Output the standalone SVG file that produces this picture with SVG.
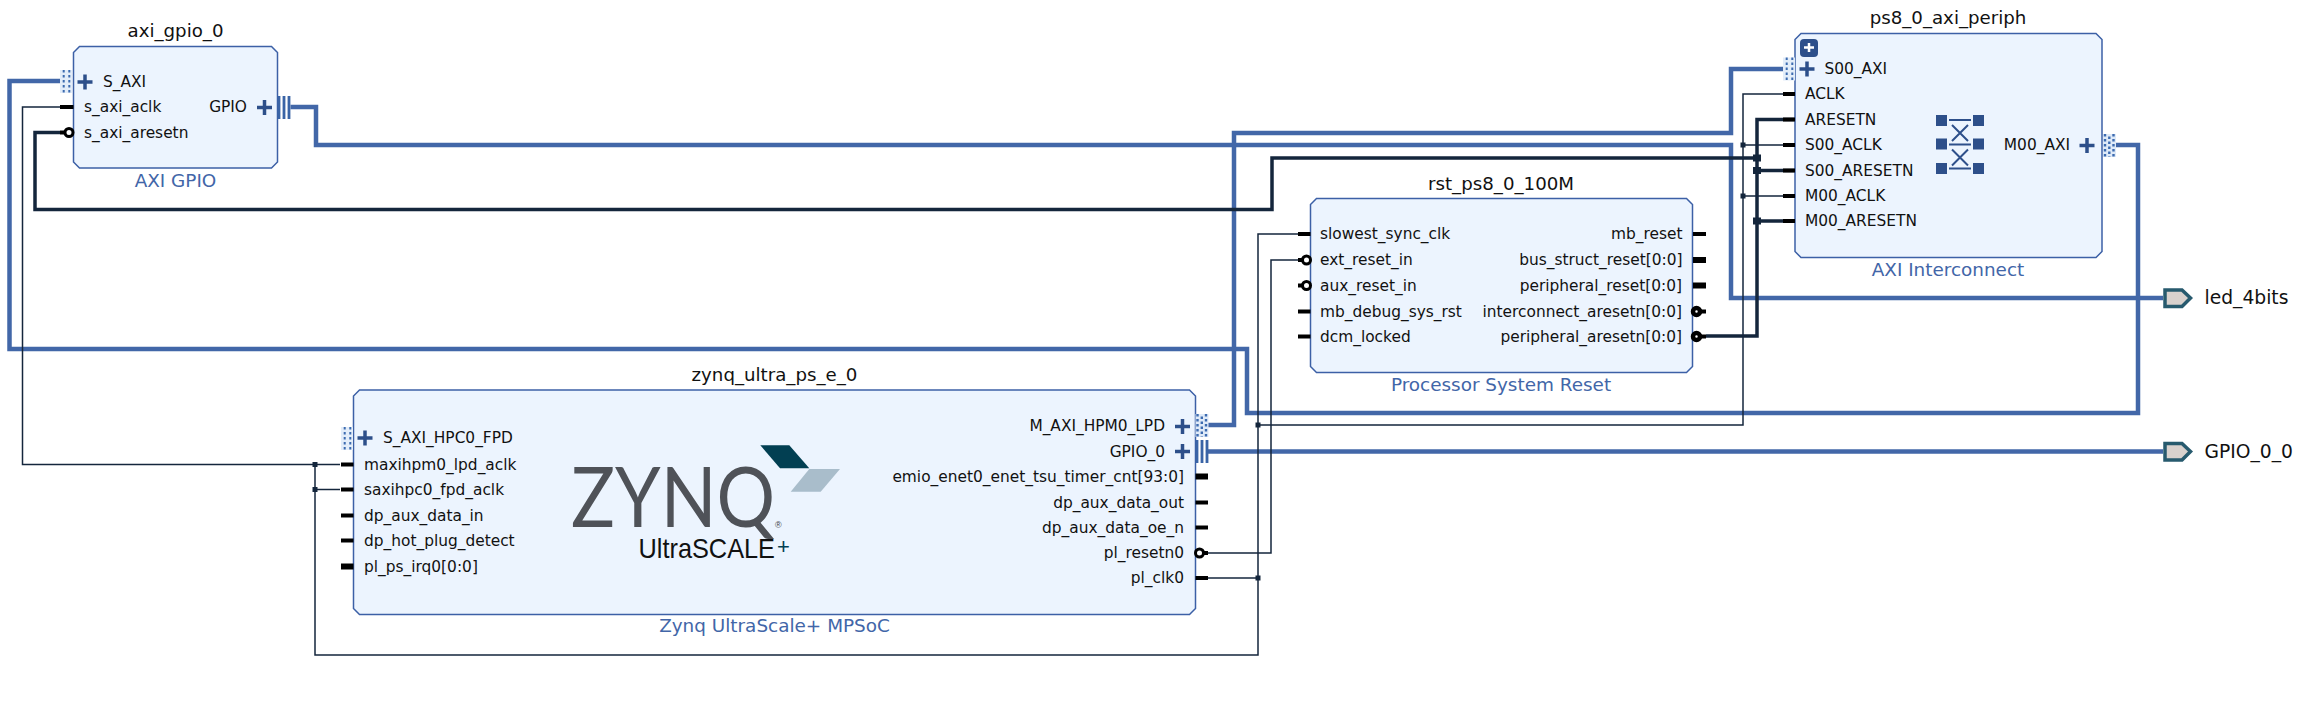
<svg xmlns="http://www.w3.org/2000/svg" width="2305" height="720" viewBox="0 0 2305 720">
<style>
text{font-family:"DejaVu Sans",sans-serif;fill:#111}
.p{font-size:15.400px}
.r{text-anchor:end}
.t{font-size:18.200px;text-anchor:middle}
.s{font-size:18.400px;text-anchor:middle;fill:#4266a8}
.box{fill:#ecf4fe;stroke:#3c60a6;stroke-width:1.500}
.bus{fill:none;stroke:#4267a8;stroke-width:4.500;stroke-linejoin:miter}
.thin{fill:none;stroke:#14263c;stroke-width:1.500}
.thick{fill:none;stroke:#14263c;stroke-width:3.500}
.dot{fill:#14263c}
.stub{stroke:#000;stroke-width:4}
.stubw{stroke:#000;stroke-width:6}
.inv{fill:#fff;stroke:#000;stroke-width:3}
.onv{fill:#fff;stroke:#000;stroke-width:4.500}
.tag{fill:#d8d1cd;stroke:#275a6e;stroke-width:3.500}
.sq{fill:#2d4f8a}
.ic{stroke:#2d4f8a;stroke-width:2;fill:none}
</style>
<defs>
<path id="plus" d="M-7.500 0H7.500M0 -7.500V7.500" stroke="#2d4f8a" stroke-width="3.500" fill="none"/>
<g id="axi"><rect x="0" y="0" width="13" height="23" fill="#dfeaf8"/><path d="M2 0V23M10.500 0V23" stroke="#3c6bb0" stroke-width="2.400" stroke-dasharray="2.500 2.500"/><path d="M6.300 2.500V23" stroke="#3c6bb0" stroke-width="2.400" stroke-dasharray="2.500 2.500"/></g>
<g id="axil"><rect x="0" y="0" width="12" height="23" fill="#e3edf9"/><path d="M3.700 0V23M9.300 0V23" stroke="#3c6bb0" stroke-width="2" stroke-dasharray="2.500 2.500"/></g>
<g id="gp"><path d="M1.500 0V23M6.500 0V23M11.500 0V23" stroke="#3a64a6" stroke-width="2.800" fill="none"/></g>
</defs>
<g id="connectors">
<path class="bus" d="M60 81H9.500V349H1247V413H2138V145H2106"/>
<path class="bus" d="M290.500 107H316V145H1731V298H2163"/>
<path class="bus" d="M1208 425H1234V133H1731V69H1783"/>
<path class="bus" d="M1208 451.500H2163"/>
<path class="thick" d="M60 132.500H35V209.500H1272V158H1757"/>
<path class="thick" d="M1706 336H1757V119.500H1795"/>
<path class="thick" d="M1757 170.500H1795M1757 221H1795"/>
<path class="thin" d="M60 107H22.500V464.500H340"/>
<path class="thin" d="M315 464.500V655H1258V234H1298"/>
<path class="thin" d="M315 489.500H340"/>
<path class="thin" d="M1208 578H1258"/>
<path class="thin" d="M1258 425H1743V94H1783"/>
<path class="thin" d="M1743 145H1783M1743 196H1783"/>
<path class="thin" d="M1208 553H1271V260H1298"/>
<rect class="dot" x="312.500" y="462" width="5" height="5"/>
<rect class="dot" x="312.500" y="487" width="5" height="5"/>
<rect class="dot" x="1255.500" y="422.500" width="5" height="5"/>
<rect class="dot" x="1255.500" y="575.500" width="5" height="5"/>
<rect class="dot" x="1740.500" y="142.500" width="5" height="5"/>
<rect class="dot" x="1740.500" y="193.500" width="5" height="5"/>
<rect class="dot" x="1753" y="154.500" width="8" height="7"/>
<rect class="dot" x="1753" y="167" width="8" height="7"/>
<rect class="dot" x="1753" y="217.500" width="8" height="7"/>
</g>
<g id="axi_gpio_0">
<text class="t" x="175.500" y="37">axi_gpio_0</text>
<path class="box" d="M79.500 46.500H271.500L277.500 52.500V162L271.500 168H79.500L73.500 162V52.500Z"/>
<text class="s" x="175.500" y="187">AXI GPIO</text>
<use href="#axil" x="60" y="70"/><use href="#plus" x="85" y="82"/>
<text class="p" x="103" y="87">S_AXI</text>
<line class="stub" x1="60" y1="107" x2="73.500" y2="107"/>
<text class="p" x="84" y="112">s_axi_aclk</text>
<line class="stub" x1="60" y1="132.500" x2="66" y2="132.500"/><circle class="inv" cx="69" cy="132.500" r="4"/>
<text class="p" x="84" y="137.500">s_axi_aresetn</text>
<text class="p r" x="247" y="112">GPIO</text>
<use href="#plus" x="264.500" y="107.500"/><use href="#gp" x="277.500" y="96"/>
</g>
<g id="ps8_0_axi_periph">
<text class="t" x="1948" y="24">ps8_0_axi_periph</text>
<path class="box" d="M1801 33.500H2096L2102 39.500V251.500L2096 257.500H1801L1795 251.500V39.500Z"/>
<text class="s" x="1948" y="276">AXI Interconnect</text>
<rect x="1800" y="39" width="18" height="18" rx="4" fill="#2d4f8a"/>
<path d="M1804 47.500H1814M1809 43V52" stroke="#fff" stroke-width="2.500"/>
<use href="#axil" x="1783" y="57.500"/><use href="#plus" x="1807" y="69"/>
<text class="p" x="1824.500" y="74">S00_AXI</text>
<line class="stub" x1="1783" y1="94" x2="1795" y2="94"/><text class="p" x="1805" y="99">ACLK</text>
<line class="stub" x1="1783" y1="119.500" x2="1795" y2="119.500"/><text class="p" x="1805" y="124.500">ARESETN</text>
<line class="stub" x1="1783" y1="145" x2="1795" y2="145"/><text class="p" x="1805" y="150">S00_ACLK</text>
<line class="stub" x1="1783" y1="170.500" x2="1795" y2="170.500"/><text class="p" x="1805" y="175.500">S00_ARESETN</text>
<line class="stub" x1="1783" y1="196" x2="1795" y2="196"/><text class="p" x="1805" y="201">M00_ACLK</text>
<line class="stub" x1="1783" y1="221" x2="1795" y2="221"/><text class="p" x="1805" y="226">M00_ARESETN</text>
<rect class="sq" x="1936" y="115" width="11" height="11"/><rect class="sq" x="1973" y="115" width="11" height="11"/>
<rect class="sq" x="1936" y="138.500" width="11" height="11"/><rect class="sq" x="1973" y="138.500" width="11" height="11"/>
<rect class="sq" x="1936" y="163" width="11" height="11"/><rect class="sq" x="1973" y="163" width="11" height="11"/>
<path class="ic" d="M1949 120H1971M1949 144.500H1971M1949 168.500H1971M1952 125L1968 141M1968 125L1952 141M1952 149.500L1968 165.500M1968 149.500L1952 165.500"/>
<text class="p r" x="2070" y="150">M00_AXI</text>
<use href="#plus" x="2087" y="145.500"/><use href="#axi" x="2103" y="134"/>
</g>
<g id="rst_ps8_0_100M">
<text class="t" x="1501" y="190">rst_ps8_0_100M</text>
<path class="box" d="M1316.500 198.500H1686.500L1692.500 204.500V366.500L1686.500 372.500H1316.500L1310.500 366.500V204.500Z"/>
<text class="s" x="1501" y="391">Processor System Reset</text>
<line class="stub" x1="1298" y1="234" x2="1310.500" y2="234"/><text class="p" x="1320" y="239">slowest_sync_clk</text>
<line class="stub" x1="1298" y1="260" x2="1304" y2="260"/><circle class="inv" cx="1306.500" cy="260" r="4"/><text class="p" x="1320" y="265">ext_reset_in</text>
<line class="stub" x1="1298" y1="285.500" x2="1304" y2="285.500"/><circle class="inv" cx="1306.500" cy="285.500" r="4"/><text class="p" x="1320" y="290.500">aux_reset_in</text>
<line class="stub" x1="1298" y1="311.500" x2="1310.500" y2="311.500"/><text class="p" x="1320" y="316.500">mb_debug_sys_rst</text>
<line class="stub" x1="1298" y1="336.500" x2="1310.500" y2="336.500"/><text class="p" x="1320" y="341.500">dcm_locked</text>
<line class="stub" x1="1693" y1="234" x2="1706" y2="234"/><text class="p r" x="1682.500" y="239">mb_reset</text>
<line class="stubw" x1="1693" y1="260" x2="1706" y2="260"/><text class="p r" x="1682.500" y="265">bus_struct_reset[0:0]</text>
<line class="stubw" x1="1693" y1="285.500" x2="1706" y2="285.500"/><text class="p r" x="1682" y="290.500">peripheral_reset[0:0]</text>
<line class="stub" x1="1699" y1="311.500" x2="1706" y2="311.500"/><circle class="onv" cx="1696.500" cy="311.500" r="3.500"/><text class="p r" x="1682" y="316.500">interconnect_aresetn[0:0]</text>
<line class="stub" x1="1699" y1="336.500" x2="1706" y2="336.500"/><circle class="onv" cx="1696.500" cy="336.500" r="3.500"/><text class="p r" x="1682" y="341.500">peripheral_aresetn[0:0]</text>
</g>
<g id="zynq_ultra_ps_e_0">
<text class="t" x="774.500" y="381">zynq_ultra_ps_e_0</text>
<path class="box" d="M359.500 390H1189.500L1195.500 396V608.500L1189.500 614.500H359.500L353.500 608.500V396Z"/>
<text class="s" x="774.500" y="632">Zynq UltraScale+ MPSoC</text>
<use href="#axil" x="341" y="427"/><use href="#plus" x="365" y="438"/>
<text class="p" x="383" y="443">S_AXI_HPC0_FPD</text>
<line class="stub" x1="341" y1="464.500" x2="353.500" y2="464.500"/><text class="p" x="364" y="469.500">maxihpm0_lpd_aclk</text>
<line class="stub" x1="341" y1="489.500" x2="353.500" y2="489.500"/><text class="p" x="364" y="494.500">saxihpc0_fpd_aclk</text>
<line class="stub" x1="341" y1="515.500" x2="353.500" y2="515.500"/><text class="p" x="364" y="520.500">dp_aux_data_in</text>
<line class="stub" x1="341" y1="540.500" x2="353.500" y2="540.500"/><text class="p" x="364" y="545.500">dp_hot_plug_detect</text>
<line class="stubw" x1="341" y1="566.500" x2="353.500" y2="566.500"/><text class="p" x="364" y="571.500">pl_ps_irq0[0:0]</text>
<text class="p r" x="1165" y="431">M_AXI_HPM0_LPD</text>
<use href="#plus" x="1182.500" y="426.500"/><use href="#axi" x="1195.500" y="414"/>
<text class="p r" x="1165" y="456.500">GPIO_0</text>
<use href="#plus" x="1182.500" y="451.500"/><use href="#gp" x="1195.500" y="440"/>
<line class="stubw" x1="1195.500" y1="476.500" x2="1208" y2="476.500"/><text class="p r" x="1184" y="481.500">emio_enet0_enet_tsu_timer_cnt[93:0]</text>
<line class="stub" x1="1195.500" y1="502.500" x2="1208" y2="502.500"/><text class="p r" x="1184" y="507.500">dp_aux_data_out</text>
<line class="stub" x1="1195.500" y1="527.500" x2="1208" y2="527.500"/><text class="p r" x="1184" y="532.500">dp_aux_data_oe_n</text>
<line class="stub" x1="1202" y1="553" x2="1208" y2="553"/><circle class="inv" cx="1199.500" cy="553" r="4"/><text class="p r" x="1184" y="558">pl_resetn0</text>
<line class="stub" x1="1195.500" y1="578" x2="1208" y2="578"/><text class="p r" x="1184" y="583">pl_clk0</text>
<polygon points="760.300,445.300 789.300,445.300 809.300,468.300 780,468.300" fill="#023f52"/>
<polygon points="809.300,469 840,469 820.700,491.700 790.700,491.700" fill="#a9bdcb"/>
<text x="571" y="527" font-size="83" font-weight="400" textLength="204" lengthAdjust="spacingAndGlyphs" style="font-family:'Lato','Liberation Sans',sans-serif;fill:#4f5258">ZYNQ</text>
<text x="775" y="528" font-size="9" style="font-family:'Liberation Sans',sans-serif;fill:#3f4248">®</text>
<text x="638.500" y="558" font-size="28" textLength="136.500" lengthAdjust="spacingAndGlyphs" style="font-family:'Liberation Sans',sans-serif;fill:#111">UltraSCALE</text>
<text x="777" y="554" font-size="22" style="font-family:'Liberation Sans',sans-serif;fill:#023f52">+</text>
</g>
<g id="led_4bits">
<path class="tag" d="M2165 290H2182L2190.500 298L2182 306.500H2165Z"/>
<text x="2204.500" y="304" font-size="18.700">led_4bits</text>
</g>
<g id="GPIO_0_0">
<path class="tag" d="M2165 443.500H2182L2190.500 451.500L2182 460H2165Z"/>
<text x="2204.500" y="458" font-size="18.700">GPIO_0_0</text>
</g>
</svg>
